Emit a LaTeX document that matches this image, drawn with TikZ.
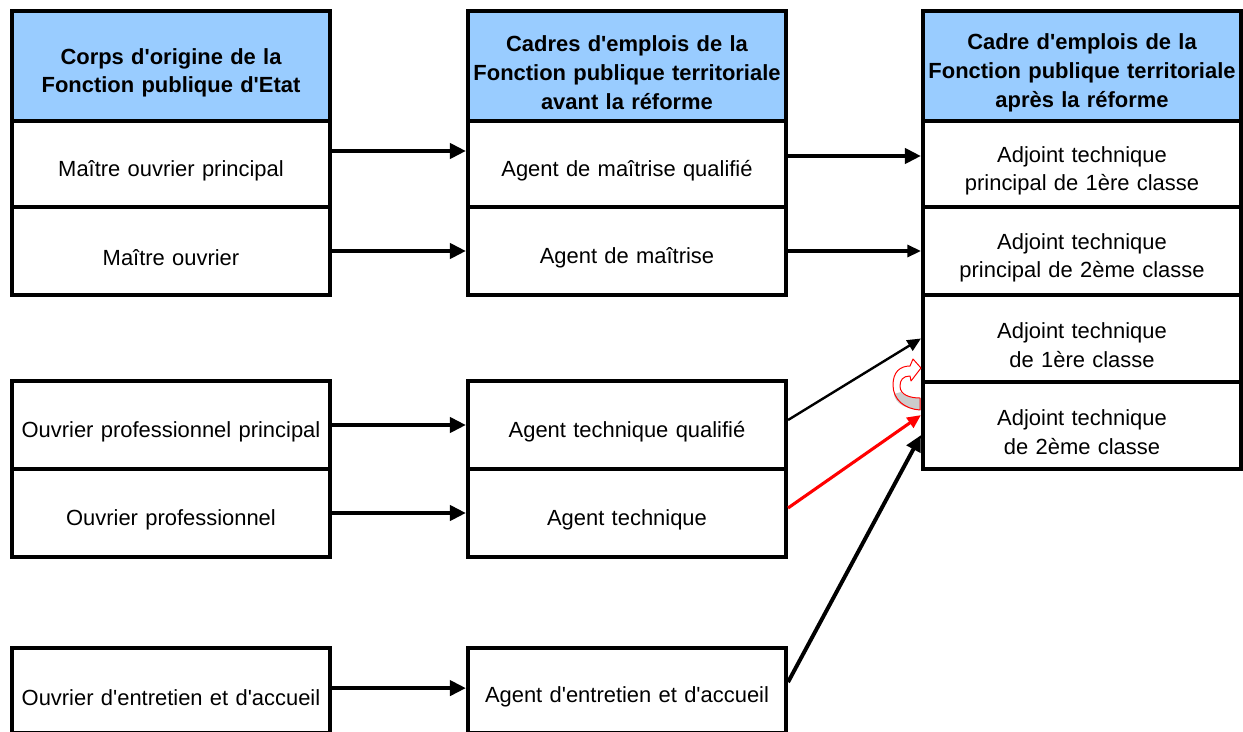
\documentclass[tikz,border=0pt]{standalone}
\usepackage{fontspec}
\setmainfont{Liberation Sans}[Ligatures=TeXOff]
\usetikzlibrary{arrows.meta}
\definecolor{bleuentete}{HTML}{99CCFF}
\tikzset{
	cellule/.style={draw, line width=2.85pt, minimum width=7.95cm, minimum height=#1, text width=7.7cm, align=center, inner sep=0pt, font=\fontsize{15.6}{20.6}\selectfont, execute at begin node={\rule{0pt}{21pt}}},
	cellule/.default=2.2cm,
	entete/.style={cellule=2.75cm, fill=bleuentete, font=\bfseries\fontsize{15.6}{20.6}\selectfont},
	fleche/.style={line width=2.8pt, -{Triangle[length=0.4cm,width=0.375cm]}},
	fine/.style={line width=1.7pt, -{Triangle[length=0.34cm,width=0.3cm]}},
}
\begin{document}
\begin{tikzpicture}[x=0.025cm, y=-0.025cm]
	\useasboundingbox (0,0) rectangle (1243,731);
	% en-tetes
	\node[entete] (corps) at (171,66) {Corps d'origine de la\\Fonction publique d'Etat};
	\node[entete] (avant) at (627,66) {Cadres d'emplois de la\\Fonction publique territoriale\\avant la réforme};
	\node[entete] (apres) at (1082,66) {Cadre d'emplois de la\\Fonction publique territoriale\\après la réforme};
	% fonction publique d'Etat
	\node[cellule=2.15cm] (mop) at (171,164) {Maître ouvrier principal};
	\node[cellule] (mo) at (171,251) {Maître ouvrier};
	\node[cellule] (opp) at (171,425) {Ouvrier professionnel principal};
	\node[cellule] (op) at (171,513) {Ouvrier professionnel};
	\node[cellule=2.125cm] (oea) at (171,690.5) {Ouvrier d'entretien et d'accueil};
	% avant la reforme
	\node[cellule=2.15cm] (amq) at (627,164) {Agent de maîtrise qualifié};
	\node[cellule] (am) at (627,251) {Agent de maîtrise};
	\node[cellule] (atq) at (627,425) {Agent technique qualifié};
	\node[cellule] (agt) at (627,513) {Agent technique};
	\node[cellule=2.125cm] (aea) at (627,690.5) {Agent d'entretien et d'accueil};
	% apres la reforme
	\node[cellule=2.15cm] (apc1) at (1082,164) {Adjoint technique\\principal de 1ère classe};
	\node[cellule] (apc2) at (1082,251) {Adjoint technique\\principal de 2ème classe};
	\node[cellule=2.175cm] (ac1) at (1082,338.5) {Adjoint technique\\de 1ère classe};
	\node[cellule=2.175cm] (ac2) at (1082,425.5) {Adjoint technique\\de 2ème classe};
	% correspondances
	\draw[fleche] ([yshift=0.325cm]mop.east) -- ([yshift=0.325cm]amq.west);
	\draw[fleche] (mo.east) -- (am.west);
	\draw[fleche] (opp.east) -- (atq.west);
	\draw[fleche] (op.east) -- (agt.west);
	\draw[fleche] ([yshift=0.06cm]oea.east) -- ([yshift=0.06cm]aea.west);
	\draw[fleche] ([yshift=0.2cm]amq.east) -- ([yshift=0.2cm]apc1.west);
	\draw[fine, line width=2.2pt] (am.east) -- (apc2.west);
	\draw[fine] ([yshift=0.125cm]atq.east) -- (ac1.west);
	\draw[fine, red, line width=2.2pt] ([yshift=0.125cm]agt.east) -- ([yshift=0.26cm]ac2.west);
	\draw[fleche] ([yshift=0.21cm]aea.east) -- ([yshift=-0.24cm]ac2.west);
	% fleche courbe
	\fill[white] (920,410) .. controls (905,409) and (893,400) .. (893,385) .. controls (893,372) and (900,366) .. (910,366) -- (913,359) -- (921,368) -- (911,381) -- (910,376) .. controls (903,376) and (900,380) .. (900,386) .. controls (900,395) and (910,398) .. (920,398) -- cycle;
	\fill[gray!40] (920,410) .. controls (905,409) and (895,403) .. (894,394) -- (901,392) .. controls (905,397) and (912,398) .. (920,398) -- cycle;
	\draw[red, line width=0.7pt, line join=round] (920,410) .. controls (905,409) and (893,400) .. (893,385) .. controls (893,372) and (900,366) .. (910,366) -- (913,359) -- (921,368) -- (911,381) -- (910,376) .. controls (903,376) and (900,380) .. (900,386) .. controls (900,395) and (910,398) .. (920,398) -- cycle;
\end{tikzpicture}
\end{document}
